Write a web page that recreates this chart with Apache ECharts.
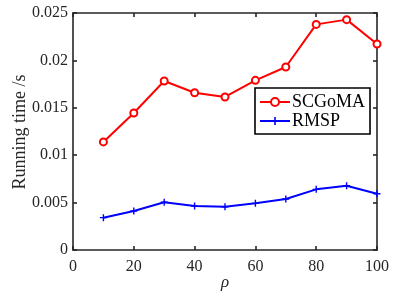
<!DOCTYPE html>
<html>
<head>
<meta charset="utf-8">
<script src="https://cdn.jsdelivr.net/npm/echarts@6/dist/echarts.min.js"></script>
<style>
  html, body { margin: 0; padding: 0; background: #fff; }
  #chart { width: 399px; height: 297px; }
</style>
</head>
<body>
<div id="chart"></div>
<script>
// values
var rho = [10, 20, 30, 40, 50, 60, 70, 80, 90, 100];
var scgoma = [0.0114, 0.01445, 0.01783, 0.01659, 0.01614, 0.0179, 0.0193, 0.0238, 0.0243, 0.02173];
var rmsp = [0.00341, 0.00411, 0.00503, 0.00464, 0.00457, 0.00492, 0.00538, 0.0064, 0.00678, 0.00594];

var axisColor = '#262626';
var font = 'Liberation Serif, Times New Roman, serif';

function pairs(xs, ys) {
  return xs.map(function (x, i) { return [x, ys[i]]; });
}

var chart = echarts.init(document.getElementById('chart'));

var boxLine = { show: true, onZero: false, lineStyle: { color: axisColor, width: 1.6 } };
var innerTick = { show: true, inside: true, length: 4, lineStyle: { color: axisColor, width: 1.6 } };

chart.setOption({
  animation: false,
  textStyle: { fontFamily: font },
  grid: { left: 73, right: 22, top: 13, bottom: 47, containLabel: false, outerBoundsMode: 'none' },
  // axis titles placed by hand, echarts pushes them too far from the labels
  graphic: [{
    type: 'text',
    x: 20, y: 132,
    rotation: Math.PI / 2,
    style: {
      text: 'Running time /s',
      font: '18px ' + font,
      fill: '#262626',
      align: 'center',
      verticalAlign: 'middle'
    }
  }, {
    type: 'text',
    x: 225, y: 283,
    style: {
      text: 'ρ',
      font: 'italic 17px ' + font,
      fill: '#262626',
      align: 'center',
      verticalAlign: 'middle'
    }
  }],
  legend: {
    orient: 'vertical',
    left: 255,
    top: 88,
    padding: [5, 5, 4, 4],
    itemGap: 1,
    itemWidth: 30,
    itemHeight: 10,
    borderColor: '#000',
    borderWidth: 1.6,
    backgroundColor: '#fff',
    textStyle: { fontFamily: font, fontSize: 18, color: '#000', padding: [0, 0, 0, -3] },
    data: ['SCGoMA', 'RMSP']
  },
  xAxis: [{
    type: 'value',
    min: 0, max: 100, interval: 20,
    axisLine: boxLine,
    axisTick: innerTick,
    splitLine: { show: false },
    axisLabel: { fontFamily: font, fontSize: 16, color: '#262626', margin: 9 }
  }, {
    type: 'value',
    position: 'top',
    min: 0, max: 100, interval: 20,
    axisLine: boxLine,
    axisTick: innerTick,
    splitLine: { show: false },
    axisLabel: { show: false }
  }],
  yAxis: [{
    type: 'value',
    min: 0, max: 0.025, interval: 0.005,
    axisLine: boxLine,
    axisTick: innerTick,
    splitLine: { show: false },
    axisLabel: { fontFamily: font, fontSize: 16, color: '#262626', margin: 5 }
  }, {
    type: 'value',
    position: 'right',
    min: 0, max: 0.025, interval: 0.005,
    axisLine: boxLine,
    axisTick: innerTick,
    splitLine: { show: false },
    axisLabel: { show: false }
  }],
  series: [{
    name: 'SCGoMA',
    type: 'line',
    data: pairs(rho, scgoma),
    symbol: 'emptyCircle',
    symbolSize: 7,
    lineStyle: { color: '#ff0000', width: 2 },
    itemStyle: { color: '#ff0000', borderColor: '#ff0000', borderWidth: 1.8 }
  }, {
    name: 'RMSP',
    type: 'line',
    data: pairs(rho, rmsp),
    symbol: 'path://M-0.8,-4H0.8V-0.8H4V0.8H0.8V4H-0.8V0.8H-4V-0.8H-0.8Z',
    symbolSize: 7,
    lineStyle: { color: '#0000ff', width: 2 },
    itemStyle: { color: '#0000ff' }
  }]
});
</script>
</body>
</html>
